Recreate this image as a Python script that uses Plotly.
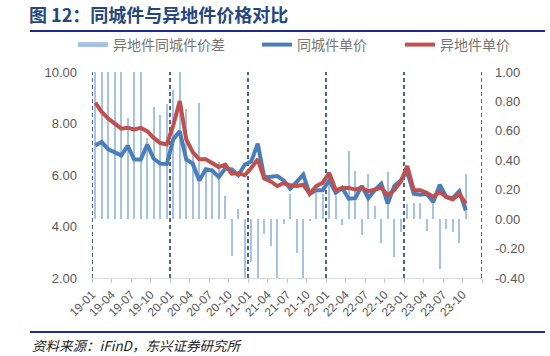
import plotly.graph_objects as go

# ---------------- data ----------------
months = [
    "19-01","19-02","19-03","19-04","19-05","19-06","19-07","19-08","19-09","19-10","19-11","19-12",
    "20-01","20-02","20-03","20-04","20-05","20-06","20-07","20-08","20-09","20-10","20-11","20-12",
    "21-01","21-02","21-03","21-04","21-05","21-06","21-07","21-08","21-09","21-10","21-11","21-12",
    "22-01","22-02","22-03","22-04","22-05","22-06","22-07","22-08","22-09","22-10","22-11","22-12",
    "23-01","23-02","23-03","23-04","23-05","23-06","23-07","23-08","23-09","23-10",
]
axis_months = 60  # axis spans 19-01 .. 23-12

local_price = [  # 同城件单价
    7.15, 7.28, 7.00, 6.89, 6.76, 7.13, 6.60, 6.60, 7.18, 6.63, 6.44, 6.42,
    7.39, 7.70, 6.60, 6.44, 5.79, 6.22, 6.17, 5.92, 6.25, 6.22, 5.99, 6.40,
    6.53, 7.22, 5.91, 5.93, 5.96, 5.79, 5.47, 5.73, 6.01, 5.27, 5.41, 5.41,
    5.79, 5.31, 5.50, 5.08, 5.10, 5.57, 5.10, 5.41, 5.66, 4.89, 5.57, 5.79,
    6.12, 5.27, 5.23, 5.27, 4.95, 5.62, 5.15, 5.10, 5.37, 4.63,
]
remote_price = [  # 异地件单价
    8.81, 8.45, 8.19, 7.99, 7.80, 7.83, 7.77, 7.83, 7.70, 7.44, 7.24, 7.19,
    7.93, 8.87, 7.38, 6.89, 6.61, 6.61, 6.48, 6.31, 6.40, 6.05, 6.07, 5.99,
    6.27, 6.61, 5.86, 5.75, 5.57, 5.68, 5.60, 5.57, 5.62, 5.27, 5.57, 5.70,
    6.08, 5.41, 5.50, 5.50, 5.44, 5.50, 5.37, 5.44, 5.50, 5.21, 5.41, 5.75,
    6.35, 5.41, 5.41, 5.31, 5.15, 5.34, 5.15, 5.05, 5.27, 4.89,
]
price_gap = [  # 异地件同城件价差
    1.66, 1.17, 1.19, 1.10, 1.04, 0.69, 1.17, 1.23, 0.55, 0.76, 0.71, 0.78,
    0.88, 1.19, 0.75, 0.47, 0.79, 0.34, 0.35, 0.39, 0.16, -0.25, 0.07, -0.45,
    -0.29, -0.61, -0.10, -0.18, -0.42, -0.03, 0.17, -0.23, -0.42, -0.01, 0.18, 0.17,
    0.29, 0.16, -0.04, 0.46, 0.33, -0.11, 0.31, 0.09, -0.16, 0.32, -0.26, -0.09,
    0.10, 0.11, 0.11, -0.08, 0.14, -0.34, -0.07, -0.09, -0.16, 0.31,
]
left_ticks = [2, 4, 6, 8, 10]
left_ticktext = ["2.00", "4.00", "6.00", "8.00", "10.00"]
right_ticks = [-0.4, -0.2, 0.0, 0.2, 0.4, 0.6, 0.8, 1.0]
right_ticktext = ["-0.40", "-0.20", "0.00", "0.20", "0.40", "0.60", "0.80", "1.00"]

# ---------------- styling ----------------
W, H = 550, 356
ML, MR, MT, MB = 92, 68, 72, 78
PW, PH = W - ML - MR, H - MT - MB
FONT = "Liberation Sans, Arial, Noto Sans CJK SC"
CJK = "Noto Sans CJK SC, Liberation Sans"
BAR_C = "#A7C3E4"
BLUE_C = "#4A7EBB"
RED_C = "#C0504D"
NAVY = "#1F3F73"
RULE = "#1E2A8C"
GRAY = "#595959"

def px_x(p):
    return (p - ML) / PW

def px_y(p):
    return (H - MB - p) / PH

x = list(range(len(months)))

fig = go.Figure()
fig.add_trace(go.Bar(
    x=x, y=price_gap, name="异地件同城件价差", marker_color=BAR_C,
    marker_line_width=0, width=0.36, yaxis="y", showlegend=False,
))
# legend stand-in for the bar series (wide swatch like the original)
fig.add_trace(go.Scatter(
    x=[None], y=[None], mode="lines", name="异地件同城件价差",
    line=dict(color=BAR_C, width=5), yaxis="y", legend="legend",
))
fig.add_trace(go.Scatter(
    x=x, y=local_price, mode="lines", name="同城件单价",
    line=dict(color=BLUE_C, width=4), yaxis="y2", legend="legend2",
))
fig.add_trace(go.Scatter(
    x=x, y=remote_price, mode="lines", name="异地件单价",
    line=dict(color=RED_C, width=4), yaxis="y2", legend="legend3",
))

# year boundary dashed lines
shapes = []
for b in range(0, axis_months + 1, 12):
    shapes.append(dict(type="line", xref="x", yref="paper", x0=b - 0.5, x1=b - 0.5,
                       y0=0, y1=1, layer="below",
                       line=dict(color=NAVY, width=1.6, dash="4px,3px")))
# header / footer rules
shapes.append(dict(type="line", xref="paper", yref="paper", x0=px_x(30), x1=px_x(545),
                   y0=px_y(31), y1=px_y(31), line=dict(color=RULE, width=2)))
shapes.append(dict(type="line", xref="paper", yref="paper", x0=px_x(30), x1=px_x(545),
                   y0=px_y(332), y1=px_y(332), line=dict(color=RULE, width=2)))

tickpos = [i - 0.5 for i in range(0, axis_months + 1, 3)]
ticklab = months[0::3] + [""] * (len(tickpos) - len(months[0::3]))

leg_common = dict(orientation="h", xref="container", yref="container",
                  yanchor="middle", xanchor="left", bgcolor="rgba(0,0,0,0)",
                  font=dict(family=CJK, size=14, color="#767676"),
                  itemwidth=30)

fig.update_layout(
    width=W, height=H,
    margin=dict(l=ML, r=MR, t=MT, b=MB, autoexpand=False),
    paper_bgcolor="white", plot_bgcolor="white",
    font=dict(family=FONT, size=13, color=GRAY),
    title=dict(text="<b>图 12：同城件与异地件价格对比</b>", xref="container", yref="container",
               x=29 / W, xanchor="left", y=1 - 16 / H, yanchor="middle",
               font=dict(family=CJK, size=18, color="#24467E")),
    bargap=0,
    xaxis=dict(range=[-0.5, axis_months - 0.5], tickmode="array", tickvals=tickpos,
               ticktext=ticklab, tickangle=-45, ticks="outside", ticklen=4,
               tickcolor="#C8C8C8", showline=True, linecolor="#D9D9D9", linewidth=1,
               showgrid=False, zeroline=False, automargin=False,
               tickfont=dict(family=FONT, size=12, color=GRAY)),
    yaxis=dict(range=[-0.4, 1.0], side="right", tickmode="array", tickvals=right_ticks,
               ticktext=right_ticktext, showgrid=False, zeroline=False, showline=False,
               ticklabelstandoff=12, automargin=False,
               tickfont=dict(family=FONT, size=13, color=GRAY)),
    yaxis2=dict(range=[2, 10], side="left", overlaying="y", tickmode="array",
                tickvals=left_ticks, ticktext=left_ticktext, showgrid=False,
                zeroline=False, showline=False, ticklabelstandoff=14, automargin=False,
                tickfont=dict(family=FONT, size=13, color=GRAY)),
    legend=dict(x=73 / W, y=1 - 45 / H, **leg_common),
    legend2=dict(x=257 / W, y=1 - 45 / H, **leg_common),
    legend3=dict(x=400 / W, y=1 - 45 / H, **leg_common),
    shapes=shapes,
    annotations=[dict(text="<i>资料来源：iFinD，东兴证券研究所</i>", xref="paper", yref="paper",
                      x=px_x(30), y=px_y(345), xanchor="left", yanchor="middle",
                      showarrow=False, font=dict(family=CJK, size=13.5, color="#222222"))],
)

fig.write_html("out.html", config={"displayModeBar": False},
               post_script="document.body.style.margin='0';document.body.style.padding='0';")
